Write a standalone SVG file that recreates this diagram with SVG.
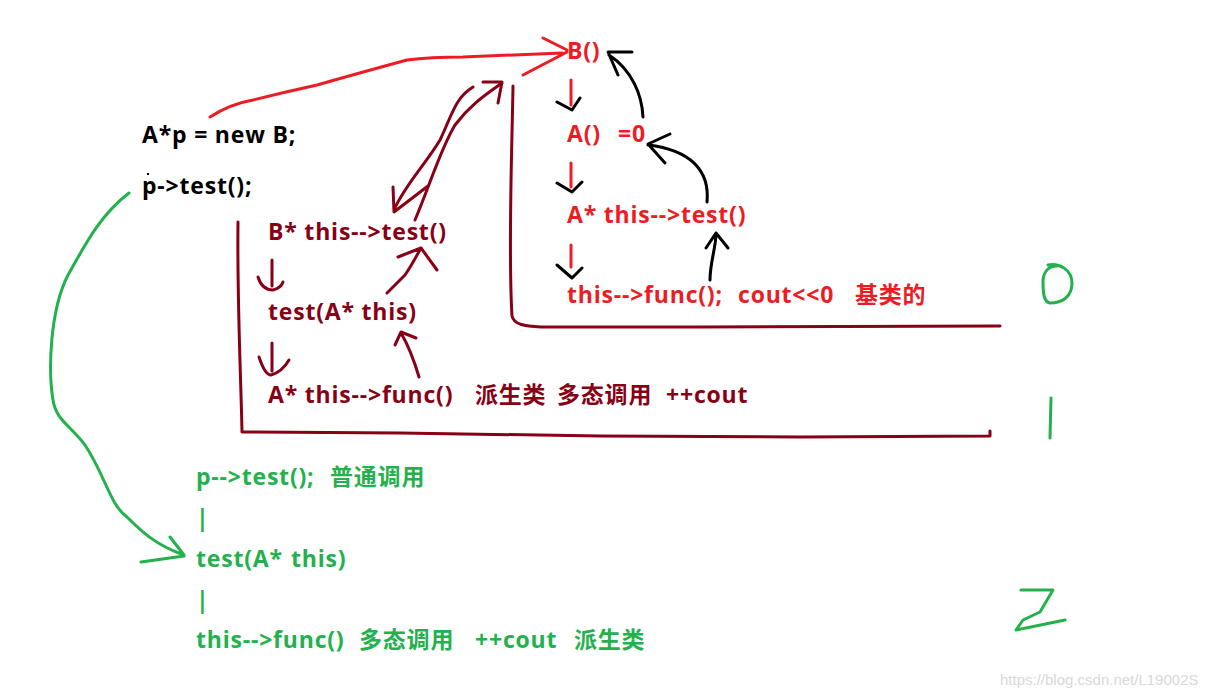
<svg xmlns="http://www.w3.org/2000/svg" width="1218" height="697" viewBox="0 0 1218 697">
<style>
text{font-family:"Open Sans","Noto Sans CJK SC",sans-serif;font-weight:bold;font-size:23px;letter-spacing:0.8px}
.k{fill:#000}.r{fill:#ED1C24}.d{fill:#880015}.g{fill:#22B14C}
.s{fill:none;stroke-width:3;stroke-linecap:round;stroke-linejoin:round}
.sr{stroke:#ED1C24}.sd{stroke:#880015}.sk{stroke:#000}.sg{stroke:#22B14C}
.wm{font-family:"Liberation Sans",Arial,sans-serif;font-weight:normal;font-size:15px;fill:#d9d9d9;letter-spacing:0}
</style>
<rect width="1218" height="697" fill="#fff"/>
<g id="connectors">
<path class="s sr" d="M210,117 Q230,104 253,100 Q285,92 317,85 Q370,70 407,60 Q430,57 463,57 L562,53 M543,38 L567,50 M523,75 L567,52"/>
<path class="s sd" d="M473,87 C455,98 452,115 440,140 C425,165 405,185 394,210 M393,187 L394,212 L428,186"/>
<path class="s sd" d="M415,220 C430,185 440,150 455,125 C470,105 485,95 502,83 M483,82 L502,82 L498,103"/>
<path class="s sd" d="M513,86 C512,150 508,250 512,316 C514,325 525,326 541,327 L700,327 L1000,326"/>
<path class="s sd" d="M238,222 C237,300 241,380 242,432 L400,433 L600,436 L800,437 L990,436 L990,431"/>
<path class="s sd" d="M272,260 L272,286 M258,277 Q262,290 273,290 Q281,288 283,282"/>
<path class="s sd" d="M272,343 L272,371 M259,357 Q265,375 271,375 Q282,372 289,360"/>
<path class="s sd" d="M387,293 C395,285 400,280 405,275 C412,265 417,255 421,248 M398,257 L421,248 L437,270"/>
<path class="s sd" d="M419,377 C414,360 408,345 401,333 M395,345 L401,332 L416,338"/>
<path class="s sr" d="M571,80 L571,105 M571,163 L571,187 M571,245 L571,267"/>
<path class="s sk" d="M557,102 L572,110 L580,98 M557,183 L572,192 L582,182 M557,265 L572,278 L582,268"/>
<path class="s sk" d="M643,117 C642,95 632,70 609,55 M632,52 L608,52 L618,75"/>
<path class="s sk" d="M707,202 C710,170 690,150 648,145 M670,134 L648,144 L665,163"/>
<path class="s sk" d="M710,280 C710,262 716,248 716,233 M706,248 L716,233 L728,248"/>
<path class="s sg" d="M129,193 C100,215 85,245 68,275 C50,310 48,370 53,400 C56,420 70,425 85,445 C105,475 110,505 127,517 C140,530 155,545 184,555 M170,537 L184,555 M141,562 L184,556"/>
<path class="s sg" d="M1048,265 C1060,263 1072,270 1072,283 C1072,297 1062,303 1050,303 C1043,302 1043,290 1043,280 C1044,270 1050,266 1057,266"/>
<path class="s sg" d="M1051,398 L1050,438"/>
<path class="s sg" d="M1021,590 L1053,590 L1040,612 L1023,620 L1016,630 L1065,620"/>
</g>
<g id="main">
<text class="k" x="142" y="143">A*p = new B;</text>
<rect x="147" y="173" width="2" height="2" fill="#000"/>
<text class="k" x="142" y="194">p-&gt;test();</text>
</g>
<g id="base">
<text class="r" x="567" y="59">B()</text>
<text class="r" x="567" y="142">A()  <tspan x="618">=0</tspan></text>
<text class="r" x="567" y="223">A* this--&gt;test()</text>
<text class="r" x="567" y="303">this--&gt;func();  <tspan x="738">cout&lt;&lt;0</tspan> <tspan x="855">基类的</tspan></text>
</g>
<g id="derived">
<text class="d" x="268" y="240">B* this--&gt;test()</text>
<text class="d" x="268" y="320">test(A* this)</text>
<text class="d" x="268" y="403">A* this--&gt;func()   <tspan x="475">派生类</tspan>  <tspan x="557">多态调用</tspan>   <tspan x="666">++cout</tspan></text>
</g>
<g id="normal">
<text class="g" x="196" y="485">p--&gt;test();  <tspan x="330">普通调用</tspan></text>
<text class="g" x="196" y="526">|</text>
<text class="g" x="196" y="567">test(A*  <tspan x="291">this)</tspan></text>
<text class="g" x="196" y="608">|</text>
<text class="g" x="196" y="648">this--&gt;func()  <tspan x="359">多态调用</tspan>   <tspan x="475">++cout</tspan>  <tspan x="574">派生类</tspan></text>
</g>
<text class="wm" x="1000" y="685">https://blog.csdn.net/L19002S</text>
</svg>
